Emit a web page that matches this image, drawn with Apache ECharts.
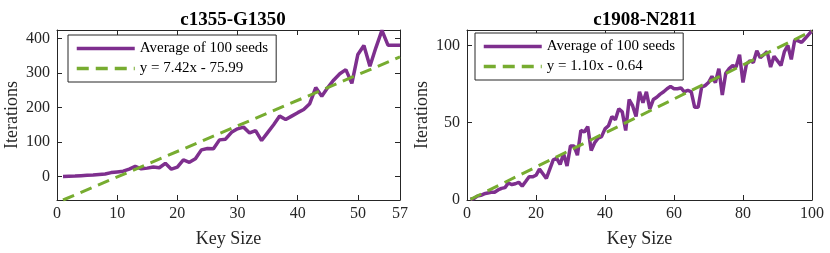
<!DOCTYPE html>
<html><head><meta charset="utf-8">
<script src="https://cdn.jsdelivr.net/npm/echarts@6/dist/echarts.min.js"></script>
<style>html,body{margin:0;padding:0;background:#fff}#c{width:830px;height:253px}</style>
</head><body><div id="c"></div>
<script>
// ---- data ----
const titles = ['c1355-G1350', 'c1908-N2811'];
const seriesName = 'Average of 100 seeds';

const keysA = [1,2,3,4,5,6,7,8,9,10,11,12,13,14,15,16,17,18,19,20,21,22,23,24,25,26,27,28,29,30,
  31,32,33,34,35,36,37,38,39,40,41,42,43,44,45,46,47,48,49,50,51,52,53,54,55,56,57];
const avgA = [0,0.5,1,2,3,4,5.5,7,11,13,15,21,29,22,24,27,25,38,21,27,48,41,51,77,81,80,106,108,128,138,
  143,126,133,104,127,150,175,165,175,185,194,211,258,233,258,280,298,310,270,354,380,320,374,424,381,381,381];
const fitLabelA = 'y = 7.42x - 75.99';
const fitXA = [1, 57];
const fitYA = [-68.57, 346.95];
const xTicksA = [0,10,20,30,40,50,57];
const yTicksA = [0,100,200,300,400];
const xRangeA = [0, 57];
const yRangeA = [-68.57, 425];

const keysB = [1,2,3,4,5,6,7,8,9,10,11,12,13,14,15,16,17,18,19,20,21,22,23,24,25,26,27,28,29,30,
  31,32,33,34,35,36,37,38,39,40,41,42,43,44,45,46,47,48,49,50,51,52,53,54,55,56,57,58,59,60,
  61,62,63,64,65,66,67,68,69,70,71,72,73,74,75,76,77,78,79,80,81,82,83,84,85,86,87,88,89,90,
  91,92,93,94,95,96,97,98,99,100];
const avgB = [0.5,1,2.5,3,4,4.5,5,5,6.5,7.5,8,11,10,10.5,11.5,9,12,15,15,16,20,17,14,20,26,27,23,30,22,35,
  35,29,45,44,47.5,32,37,40,41,46,48,54,52,59,57,45,65,61,54,70,63,70,59,65,66.5,68.5,70,72,73.5,72,
  72,72.5,70,71,70,60,60,73,74,76,80,76,85,68,82,85,87,86,94,76,88,90,89,96.5,92,94,96,86,93,90,
  87,96,100,91,103.5,103,102,104.5,107,109.5];
const fitLabelB = 'y = 1.10x - 0.64';
const fitXB = [1, 100];
const fitYB = [0.46, 109.36];
const xTicksB = [0,20,40,60,80,100];
const yTicksB = [0,50,100];
const xRangeB = [0, 100];
const yRangeB = [0, 110];

// ---- styling ----
const FONT = 'Liberation Serif';
const AX = '#262626';
const PURPLE = '#7E2F8E';
const GREEN = '#77AC30';

const grids = [
  {left: 57, top: 30, width: 343, height: 170},
  {left: 467, top: 30, width: 345, height: 170}
];

function baseAxis(g, range, ticks) {
  return {
    type: 'value', gridIndex: g, min: range[0], max: range[1],
    axisLine: {show: true, onZero: false, lineStyle: {color: AX, width: 1}},
    axisTick: {show: true, inside: true, length: 5, customValues: ticks, lineStyle: {color: AX}},
    splitLine: {show: false}
  };
}
function xAxes(g, range, ticks) {
  return [
    Object.assign(baseAxis(g, range, ticks), {
      position: 'bottom', name: 'Key Size', nameLocation: 'middle', nameGap: 30,
      nameTextStyle: {fontFamily: FONT, fontSize: 18, color: AX},
      axisLabel: {show: true, customValues: ticks, margin: 6, fontFamily: FONT, fontSize: 16, color: AX}
    }),
    Object.assign(baseAxis(g, range, ticks), {position: 'top', axisLabel: {show: false}})
  ];
}
function yAxes(g, range, ticks) {
  return [
    Object.assign(baseAxis(g, range, ticks), {
      position: 'left', name: 'Iterations', nameLocation: 'middle', nameGap: 36,
      nameTextStyle: {fontFamily: FONT, fontSize: 18, color: AX},
      axisLabel: {show: true, customValues: ticks, margin: 7, fontFamily: FONT, fontSize: 16, color: AX}
    }),
    Object.assign(baseAxis(g, range, ticks), {position: 'right', axisLabel: {show: false}})
  ];
}

function panelSeries(xi, yi, keys, vals, fitName, fx, fy) {
  return [
    {type: 'line', name: seriesName, xAxisIndex: xi, yAxisIndex: yi,
     data: keys.map((k, i) => [k, vals[i]]), symbol: 'none', z: 2,
     lineStyle: {width: 3.5, color: PURPLE}, itemStyle: {color: PURPLE}},
    {type: 'line', name: fitName, xAxisIndex: xi, yAxisIndex: yi,
     data: fx.map((x, i) => [x, fy[i]]), symbol: 'none', z: 3,
     lineStyle: {width: 3, color: GREEN, type: [12, 7]}, itemStyle: {color: GREEN}}
  ];
}

function legend(left, top, fitName) {
  return {
    orient: 'vertical', left: left, top: top, data: [seriesName, fitName],
    itemWidth: 58, itemHeight: 14, itemGap: 5, padding: [6, 8, 6, 7],
    backgroundColor: '#fff', borderColor: AX, borderWidth: 1, borderRadius: 0,
    selectedMode: false,
    itemStyle: {opacity: 0, borderWidth: 0},
    lineStyle: {width: 3.5},
    textStyle: {fontFamily: FONT, fontSize: 15, color: '#000'}
  };
}

const chart = echarts.init(document.getElementById('c'), null, {renderer: 'canvas'});
chart.setOption({
  animation: false,
  backgroundColor: '#fff',
  title: [
    {text: titles[0], left: 228, top: 6, textAlign: 'center',
     textStyle: {fontFamily: FONT, fontSize: 19, fontWeight: 'bold', color: '#000'}},
    {text: titles[1], left: 640, top: 6, textAlign: 'center',
     textStyle: {fontFamily: FONT, fontSize: 19, fontWeight: 'bold', color: '#000'}}
  ],
  grid: grids,
  xAxis: [].concat(xAxes(0, xRangeA, xTicksA), xAxes(1, xRangeB, xTicksB)),
  yAxis: [].concat(yAxes(0, yRangeA, yTicksA), yAxes(1, yRangeB, yTicksB)),
  legend: [legend(68, 35, fitLabelA), legend(475, 33, fitLabelB)],
  series: [].concat(
    panelSeries(0, 0, keysA, avgA, fitLabelA, fitXA, fitYA),
    panelSeries(2, 2, keysB, avgB, fitLabelB, fitXB, fitYB)
  )
});
</script></body></html>
